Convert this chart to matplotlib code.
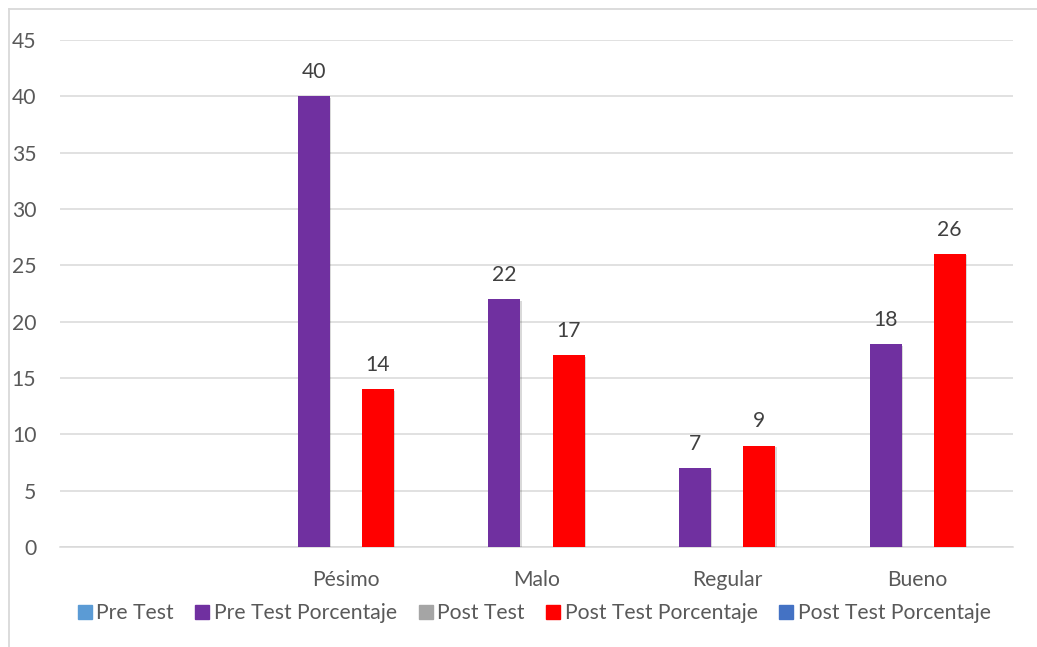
import numpy as np
import matplotlib
matplotlib.use("Agg")
import matplotlib.pyplot as plt
from matplotlib.lines import Line2D
import matplotlib.patheffects as pe

plt.rcParams['font.family'] = ['Lato', 'DejaVu Sans']

# Chart data
categories = ['', 'Pésimo', 'Malo', 'Regular', 'Bueno']
series_names = ['Pre Test', 'Pre Test Porcentaje', 'Post Test',
                'Post Test Porcentaje', 'Post Test Porcentaje']
pre_test = [np.nan, np.nan, np.nan, np.nan, np.nan]
pre_test_pct = [np.nan, 40, 22, 7, 18]
post_test = [np.nan, np.nan, np.nan, np.nan, np.nan]
post_test_pct = [np.nan, 14, 17, 9, 26]
post_test_pct_2 = [np.nan, np.nan, np.nan, np.nan, np.nan]
y_ticks = [0, 5, 10, 15, 20, 25, 30, 35, 40, 45]

series_values = [pre_test, pre_test_pct, post_test, post_test_pct, post_test_pct_2]
colors = ['#5B9BD5', '#7030A0', '#A5A5A5', '#FF0000', '#4472C4']
text_color = '#595959'
grid_color = '#D9D9D9'
fs = 15.2

W, H = 1037, 647
fig = plt.figure(figsize=(W / 100, H / 100), dpi=100)
ax = fig.add_axes([60 / W, 1 - 547 / H, (1013 - 60) / W, (547 - 40) / H])

x = np.arange(len(categories))
bar_w = 0.168
shadow = [pe.SimplePatchShadow(offset=(1.0, -1.0), shadow_rgbFace='#000000', alpha=0.15),
          pe.Normal()]
for i, (vals, col) in enumerate(zip(series_values, colors)):
    offs = (i - 2) * bar_w
    bars = ax.bar(x + offs, vals, width=bar_w, color=col, zorder=3, linewidth=0)
    for b, v in zip(bars, vals):
        if np.isnan(v):
            continue
        b.set_path_effects(shadow)
        ax.annotate(f'{v:g}', (b.get_x() + b.get_width() / 2, v),
                    xytext=(0, 17.5), textcoords='offset points',
                    ha='center', va='center', fontsize=fs, color='#404040')

ax.set_xlim(-0.5, len(categories) - 0.5)
ax.set_ylim(0, 45)
ax.set_yticks(y_ticks)
ax.set_xticks(x)
ax.set_xticklabels(categories)
ax.yaxis.grid(True, color=grid_color, linewidth=1.1, zorder=0)
ax.set_axisbelow(True)
for s in ['top', 'right', 'left']:
    ax.spines[s].set_visible(False)
ax.spines['bottom'].set_color(grid_color)
ax.spines['bottom'].set_linewidth(1.1)
ax.tick_params(axis='both', length=0, labelsize=fs, colors=text_color)
ax.tick_params(axis='y', pad=17)
ax.tick_params(axis='x', pad=16.5)
ax.set_facecolor('none')

# Legend
handles = [Line2D([0], [0], marker='s', linestyle='none', markersize=10,
                  markerfacecolor=c, markeredgecolor=c) for c in colors]
fig.legend(handles, series_names, loc='center', bbox_to_anchor=(534 / W, 1 - 613 / H),
           ncol=5, frameon=False, fontsize=fs, labelcolor=text_color,
           handlelength=0.7, handletextpad=0.2, columnspacing=1.0, borderaxespad=0)

# Chart area border
fig.add_artist(Line2D([8.5 / W, 8.5 / W], [0, 1 - 8.5 / H], color=grid_color, lw=1.3,
                      transform=fig.transFigure))
fig.add_artist(Line2D([8.5 / W, 1], [1 - 8.5 / H, 1 - 8.5 / H], color=grid_color, lw=1.3,
                      transform=fig.transFigure))

fig.savefig('out.png', dpi=100, facecolor='white')
